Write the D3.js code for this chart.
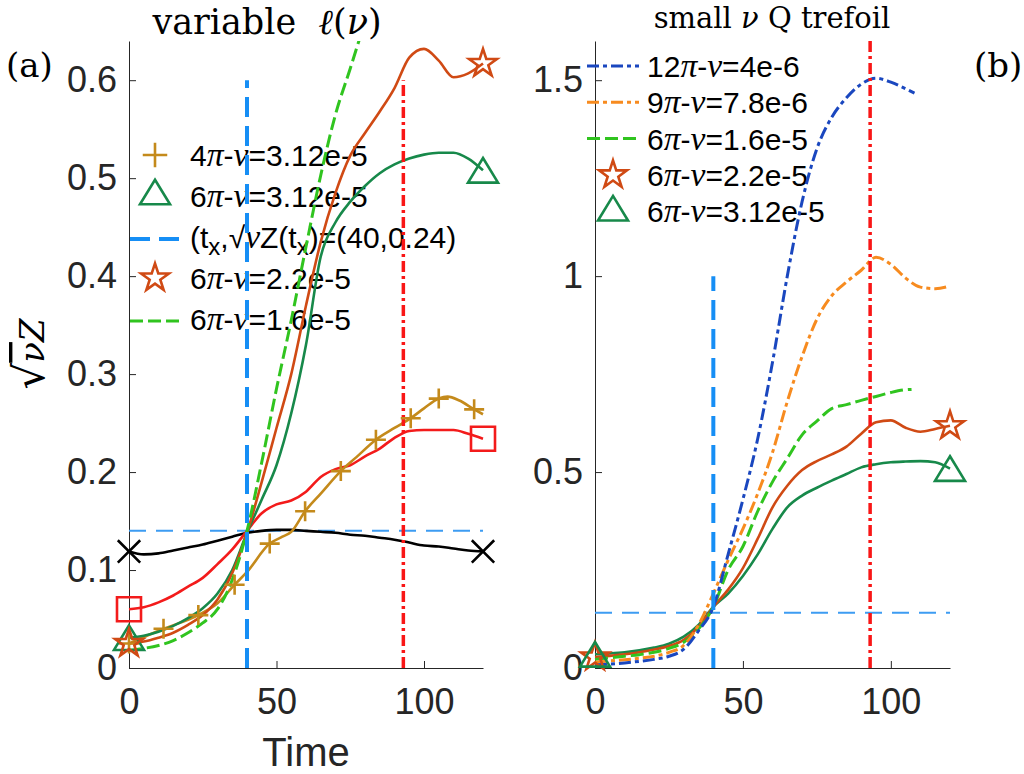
<!DOCTYPE html>
<html>
<head>
<meta charset="utf-8">
<script src="https://cdn.jsdelivr.net/npm/d3@7"></script>
<style>
  body { margin: 0; background: #fff; }
  svg { display: block; }
  text { white-space: pre; }
</style>
</head>
<body>
<svg id="chart" width="1024" height="774"></svg>
<script>
// ---- data ----
const tGrid = [0,5,10,15,20,25,30,35,40,45,50,55,60,65,70,75,80,85,90,95,100,105,110,115,120];

// panel (a)
const blackA = [0.119,0.116,0.117,0.120,0.123,0.126,0.130,0.134,0.138,0.140,0.141,0.141,0.140,0.139,0.138,0.136,0.135,0.133,0.131,0.128,0.125,0.124,0.122,0.120,0.119];
const redA   = [0.060,0.062,0.067,0.074,0.083,0.092,0.106,0.121,0.140,0.158,0.167,0.171,0.180,0.195,0.203,0.207,0.216,0.224,0.235,0.242,0.243,0.243,0.243,0.239,0.234];
const starA  = [0.025,0.027,0.031,0.036,0.044,0.054,0.070,0.097,0.138,0.190,0.245,0.300,0.370,0.435,0.485,0.523,0.546,0.568,0.592,0.623,0.632,0.620,0.603,0.607,0.617];
const triA   = [0.031,0.033,0.037,0.043,0.051,0.061,0.076,0.100,0.138,0.172,0.207,0.260,0.330,0.420,0.455,0.476,0.492,0.505,0.514,0.520,0.524,0.526,0.526,0.520,0.508];
const tDashA = [0,5,10,15,20,25,30,35,40,45,50,55,60,65,70,75,80];
const dashA  = [0.018,0.020,0.023,0.028,0.036,0.046,0.060,0.090,0.140,0.210,0.285,0.355,0.430,0.503,0.565,0.612,0.660];
const goldT  = [0,11.7,23.5,30,35.8,40,47.7,52,55,59.7,65,71.8,77,83.7,90,95.5,100,105,108,112,117,120];
const goldV  = [0.025,0.040,0.054,0.066,0.085,0.098,0.127,0.134,0.139,0.160,0.178,0.201,0.215,0.233,0.245,0.255,0.265,0.275,0.277,0.273,0.264,0.259];
const goldMarkT = [0,11.7,23.5,35.8,47.7,59.7,71.8,83.7,95.5,105,117];

// panel (b)
const tBlueB = [0,5,10,15,20,25,30,35,40,45,50,55,60,65,70,75,80,85,90,95,100,105,108];
const blueB  = [0.008,0.010,0.013,0.017,0.022,0.030,0.048,0.095,0.156,0.290,0.430,0.585,0.780,1.000,1.190,1.325,1.405,1.455,1.490,1.505,1.495,1.478,1.467];
const orangeB = [0.015,0.018,0.021,0.025,0.030,0.040,0.058,0.110,0.190,0.275,0.355,0.445,0.550,0.680,0.795,0.890,0.950,0.985,1.015,1.048,1.030,0.995,0.972,0.968,0.975];
const tDashB = [0,5,10,15,20,25,30,35,40,45,50,55,60,65,70,75,80,85,90,95,100,105,107];
const dashB  = [0.022,0.026,0.030,0.034,0.040,0.050,0.066,0.100,0.156,0.250,0.310,0.400,0.475,0.535,0.595,0.630,0.662,0.672,0.683,0.693,0.703,0.710,0.711];
const starB  = [0.028,0.031,0.035,0.040,0.047,0.056,0.072,0.105,0.156,0.200,0.255,0.330,0.410,0.465,0.505,0.528,0.545,0.565,0.598,0.627,0.632,0.613,0.603,0.610,0.618];
const triB   = [0.035,0.037,0.040,0.045,0.052,0.062,0.080,0.110,0.156,0.190,0.235,0.290,0.355,0.410,0.440,0.460,0.478,0.495,0.512,0.520,0.525,0.527,0.528,0.525,0.509];

// reference lines
const tCross = 40, tPeak = 93;
const zCrossA = 0.14, zCrossB = 0.141;
const crossTopA = 0.6, peakTopA = 0.6, crossTopB = 1.0, peakTopB = 1.6;

const xTicks = [0, 50, 100];
const yTicksA = [0, 0.1, 0.2, 0.3, 0.4, 0.5, 0.6];
const yTicksB = [0, 0.5, 1, 1.5];

const legendA = ["4π-ν=3.12e-5", "6π-ν=3.12e-5", "(t_x,√νZ(t_x)=(40,0.24)", "6π-ν=2.2e-5", "6π-ν=1.6e-5"];
const legendB = ["12π-ν=4e-6", "9π-ν=7.8e-6", "6π-ν=1.6e-5", "6π-ν=2.2e-5", "6π-ν=3.12e-5"];

// colours
const C = {
  black: "#000000", red: "#f31b1b", gold: "#c48a1b", star: "#d04a14",
  tri: "#17894a", lime: "#30c41f", vblue: "#168ef5", hblue: "#3d9cf2",
  navy: "#1a47bf", orange: "#f78b1f", vred: "#f91616", axis: "#262626"
};

const svg = d3.select("#chart");

// marker shapes (MATLAB style, centred on bbox)
const symTriangle = { draw(ctx, size) { const w = Math.sqrt(size), h = w * 0.82;
  ctx.moveTo(0, -h / 2); ctx.lineTo(w / 2, h / 2); ctx.lineTo(-w / 2, h / 2); ctx.closePath(); } };
const symPlus = { draw(ctx, size) { const r = Math.sqrt(size) / 2;
  ctx.moveTo(-r, 0); ctx.lineTo(r, 0); ctx.moveTo(0, -r); ctx.lineTo(0, r); } };
const symX = { draw(ctx, size) { const r = Math.sqrt(size) / 2;
  ctx.moveTo(-r, -r); ctx.lineTo(r, r); ctx.moveTo(-r, r); ctx.lineTo(r, -r); } };
const markers = {
  triangle: [symTriangle, 900], star: [d3.symbolStar, 240], square: [d3.symbolSquare, 576],
  plus: [symPlus, 400], x: [symX, 500]
};

function drawMarker(g, kind, cx, cy, color, scale) {
  const m = markers[kind];
  g.append("path")
    .attr("d", d3.symbol().type(m[0]).size(m[1] * (scale || 1))())
    .attr("transform", `translate(${cx},${cy})`)
    .attr("fill", "none").attr("stroke", color).attr("stroke-width", 2.6);
}

// text with italic greek letters and _x subscripts
function richText(sel, str, size) {
  const parts = [];
  let i = 0;
  while (i < str.length) {
    const c = str[i];
    if (c === "_") { parts.push({ t: str[i + 1], sub: true }); i += 2; }
    else if ("πν".includes(c)) { parts.push({ t: c, greek: true }); i++; }
    else {
      let j = i;
      while (j < str.length && str[j] !== "_" && !"πν".includes(str[j])) j++;
      parts.push({ t: str.slice(i, j) }); i = j;
    }
  }
  let shift = 0;
  parts.forEach(p => {
    const ts = sel.append("tspan").text(p.t);
    if (p.greek) ts.attr("font-family", "'Liberation Serif', serif").attr("font-style", "italic").attr("font-size", size * 1.12);
    if (p.sub) { ts.attr("dy", 7).attr("font-size", size * 0.8); shift = 7; }
    else if (shift) { ts.attr("dy", -shift); shift = 0; }
  });
}

function makePanel(id, box, yMax, yTicks) {
  const x = d3.scaleLinear().domain([0, 120]).range([box.x0, box.x1]);
  const y = d3.scaleLinear().domain([0, yMax]).range([box.y0, box.y1]);
  const g = svg.append("g").attr("id", id);

  g.append("clipPath").attr("id", id + "-clip").append("rect")
    .attr("x", box.x0 - 4).attr("y", box.y1).attr("width", box.x1 - box.x0 + 8).attr("height", box.y0 - box.y1 + 4);

  const xAxis = g.append("g").attr("transform", `translate(0,${box.y0})`)
    .call(d3.axisBottom(x).tickValues(xTicks).tickSizeInner(-7).tickSizeOuter(0).tickPadding(20).tickFormat(d3.format("~g")));
  const yAxis = g.append("g").attr("transform", `translate(${box.x0},0)`)
    .call(d3.axisLeft(y).tickValues(yTicks).tickSizeInner(-7).tickSizeOuter(0).tickPadding(12).tickFormat(d3.format("~g")));
  [xAxis, yAxis].forEach(a => {
    a.selectAll("path, line").attr("stroke", C.axis).attr("stroke-width", 1);
    a.selectAll("text").attr("fill", C.axis).attr("font-family", "'Liberation Sans', Arial, sans-serif").attr("font-size", 36);
  });
  return { g, x, y, id };
}

function addLine(p, ts, vs, color, width, dash) {
  const pts = ts.map((t, i) => [t, vs[i]]);
  p.g.append("path")
    .attr("d", d3.line().x(d => p.x(d[0])).y(d => p.y(d[1])).curve(d3.curveMonotoneX)(pts))
    .attr("fill", "none").attr("stroke", color).attr("stroke-width", width)
    .attr("stroke-dasharray", dash || null).attr("stroke-linejoin", "round")
    .attr("clip-path", `url(#${p.id}-clip)`);
}
function addEnds(p, ts, vs, kind, color) {
  [0, ts.length - 1].forEach(i => drawMarker(p.g, kind, p.x(ts[i]), p.y(vs[i]), color));
}
function vRule(p, t, top, color, width, dash) {
  addLine(p, [t, t], [0, top], color, width, dash);
}
function hRule(p, v, color, width, dash) {
  addLine(p, [0, 120], [v, v], color, width, dash);
}

// ---------- panel (a) ----------
const pa = makePanel("pa", { x0: 129, x1: 483, y0: 668, y1: 41 }, 0.64, yTicksA);

// legend (a)
const legA = pa.g.append("g");
const legKindsA = [
  { m: "plus", c: C.gold }, { m: "triangle", c: C.tri }, { l: "20,9", c: C.vblue, w: 4 },
  { m: "star", c: C.star }, { l: "13,5", c: C.lime, w: 3 }
];
legendA.forEach((lab, i) => {
  const cy = 155 + i * 41;
  const k = legKindsA[i];
  if (k.m) drawMarker(legA, k.m, 155, cy + (k.m === "triangle" ? -4 : 0), k.c, k.m === "plus" ? 1.5 : 1);
  else legA.append("line").attr("x1", 130).attr("x2", 181).attr("y1", cy + 2).attr("y2", cy + 2)
    .attr("stroke", k.c).attr("stroke-width", k.w).attr("stroke-dasharray", k.l);
  const tx = legA.append("text").attr("x", 190).attr("y", cy + 11)
    .attr("font-family", "'Liberation Sans', Arial, sans-serif").attr("font-size", 30).attr("fill", "#000");
  richText(tx, lab, 30);
});

hRule(pa, zCrossA, C.hblue, 2, "17,10");
addLine(pa, tGrid, blackA, C.black, 2.6);
addLine(pa, tGrid, redA, C.red, 2.6);
addLine(pa, goldT, goldV, C.gold, 2.6);
addLine(pa, tGrid, triA, C.tri, 2.6);
addLine(pa, tGrid, starA, C.star, 2.6);
addLine(pa, tDashA, dashA, C.lime, 3, "13,5");
vRule(pa, tCross, crossTopA, C.vblue, 4, "20,9");
vRule(pa, tPeak, peakTopA, C.vred, 3.5, "11,4,3,4");

goldT.forEach((t, i) => { if (goldMarkT.includes(t)) drawMarker(pa.g, "plus", pa.x(t), pa.y(goldV[i]), C.gold); });
addEnds(pa, tGrid, blackA, "x", C.black);
addEnds(pa, tGrid, redA, "square", C.red);
addEnds(pa, tGrid, triA, "triangle", C.tri);
addEnds(pa, tGrid, starA, "star", C.star);

// ---------- panel (b) ----------
const pb = makePanel("pb", { x0: 595, x1: 950, y0: 668, y1: 41 }, 1.6, yTicksB);

const legB = pb.g.append("g");
const legKindsB = [
  { l: "12,4,4,4", c: C.navy }, { l: "12,4,4,4", c: C.orange }, { l: "13,5", c: C.lime },
  { m: "star", c: C.star }, { m: "triangle", c: C.tri }
];
legendB.forEach((lab, i) => {
  const cy = 66 + i * 36.3;
  const k = legKindsB[i];
  if (k.m) drawMarker(legB, k.m, 613, cy + (k.m === "triangle" ? -3 : 0), k.c);
  else legB.append("line").attr("x1", 587).attr("x2", 639).attr("y1", cy).attr("y2", cy)
    .attr("stroke", k.c).attr("stroke-width", 3).attr("stroke-dasharray", k.l);
  const tx = legB.append("text").attr("x", 647).attr("y", cy + 11)
    .attr("font-family", "'Liberation Sans', Arial, sans-serif").attr("font-size", 30).attr("fill", "#000");
  richText(tx, lab, 30);
});

hRule(pb, zCrossB, C.hblue, 2, "17,10");
addLine(pb, tGrid, triB, C.tri, 2.6);
addLine(pb, tGrid, starB, C.star, 2.6);
addLine(pb, tDashB, dashB, C.lime, 3, "13,5");
addLine(pb, tGrid, orangeB, C.orange, 3, "12,4,4,4");
addLine(pb, tBlueB, blueB, C.navy, 3, "12,4,4,4");
vRule(pb, tCross, crossTopB, C.vblue, 4, "20,9");
vRule(pb, tPeak, peakTopB, C.vred, 3.5, "11,4,3,4");
addEnds(pb, tGrid, starB, "star", C.star);
addEnds(pb, tGrid, triB, "triangle", C.tri);

// ---------- titles and labels ----------
const serif = "'DejaVu Serif', 'Liberation Serif', serif";
const tA = svg.append("text").attr("x", 267).attr("y", 34).attr("text-anchor", "middle")
  .attr("font-family", serif).attr("font-size", 35).attr("fill", "#000");
tA.append("tspan").text("variable  ");
tA.append("tspan").attr("font-style", "italic").text("ℓ");
tA.append("tspan").text("(");
tA.append("tspan").attr("font-style", "italic").text("ν");
tA.append("tspan").text(")");

const tB = svg.append("text").attr("x", 772).attr("y", 28).attr("text-anchor", "middle")
  .attr("font-family", serif).attr("font-size", 29).attr("fill", "#000");
tB.append("tspan").text("small ");
tB.append("tspan").attr("font-style", "italic").text("ν");
tB.append("tspan").text(" Q trefoil");

svg.append("text").attr("x", 6).attr("y", 77).attr("font-family", serif).attr("font-size", 34).text("(a)");
svg.append("text").attr("x", 974).attr("y", 77).attr("font-family", serif).attr("font-size", 34).text("(b)");

const yl = svg.append("text").attr("transform", "translate(44,354) rotate(-90)").attr("text-anchor", "middle")
  .attr("font-family", serif).attr("font-size", 34).attr("fill", "#000");
yl.append("tspan").attr("font-size", 42).text("√");
yl.append("tspan").attr("font-style", "italic").attr("text-decoration", "overline").text("ν");
yl.append("tspan").attr("font-style", "italic").text("Z");

svg.append("text").attr("x", 306).attr("y", 766).attr("text-anchor", "middle")
  .attr("font-family", "'Liberation Sans', Arial, sans-serif").attr("font-size", 40).attr("fill", C.axis).text("Time");
</script>
</body>
</html>
